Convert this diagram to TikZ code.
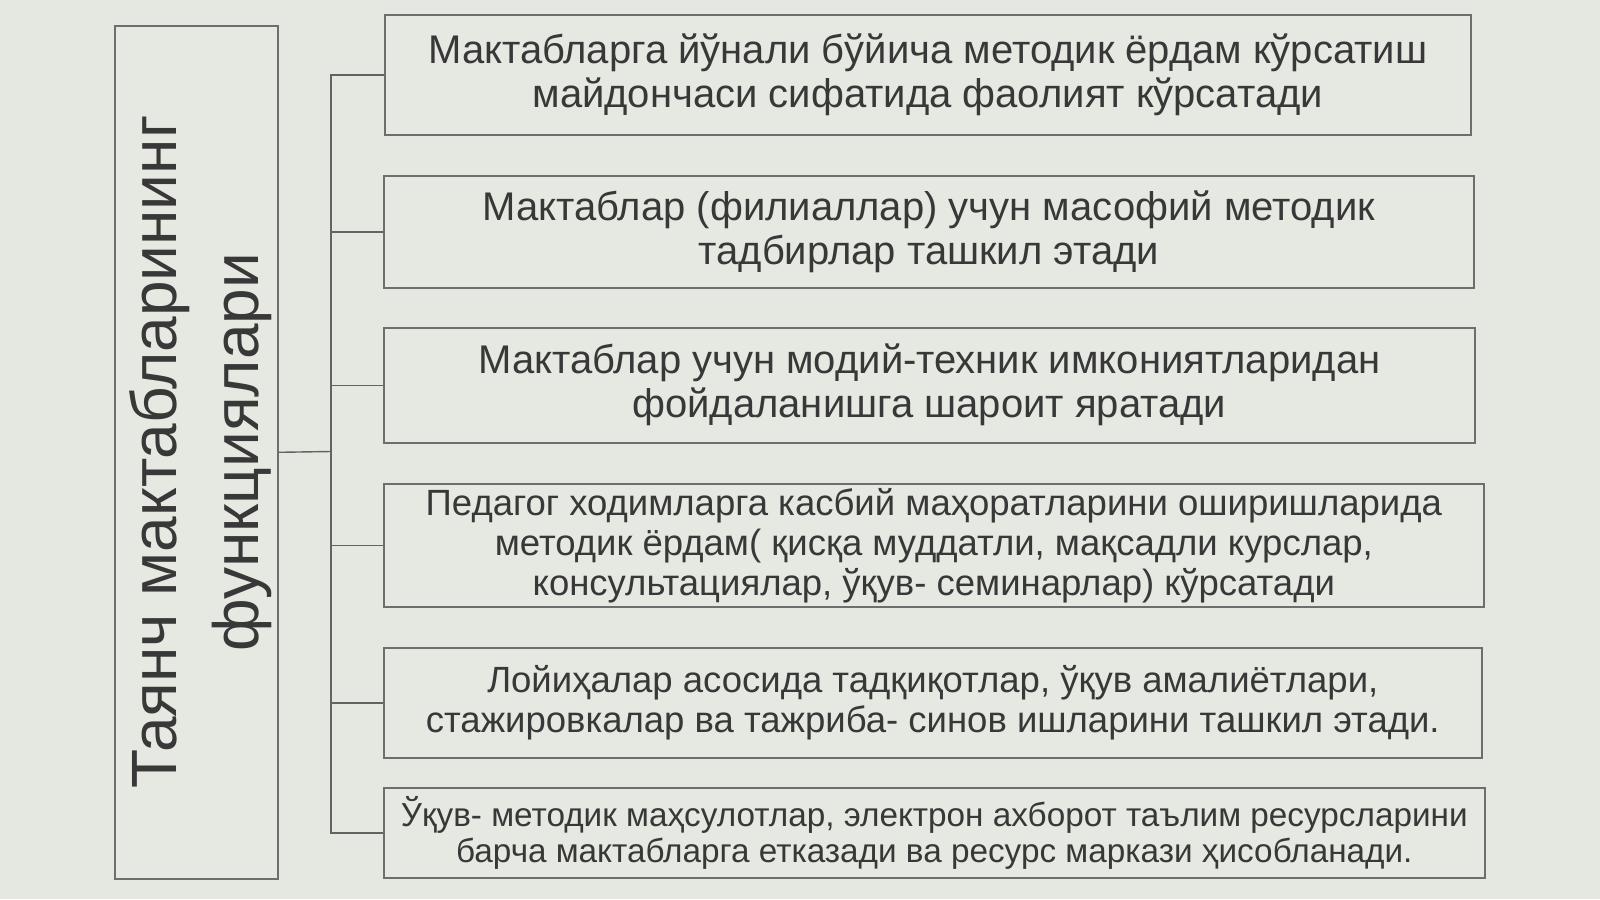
\documentclass[tikz,border=0pt]{standalone}
\usepackage{fontspec}
\setmainfont{Liberation Sans}
\definecolor{bgc}{HTML}{E4E8E0}
\definecolor{boxfill}{HTML}{E5E9E1}
\definecolor{edgec}{HTML}{6E6E6E}
\definecolor{txtc}{HTML}{383838}
\begin{document}
\begin{tikzpicture}[x=1pt,y=-1pt,
  item/.style={draw=edgec, fill=boxfill, line width=1.6pt, anchor=north west,
    align=center, text=txtc, inner sep=0pt},
  link/.style={draw=edgec!90!black, line width=1.4pt}]
\fill[bgc] (0,0) rectangle (1600,899);
\useasboundingbox (0,0) rectangle (1600,899);
\node[item, minimum width=163pt, minimum height=853pt] (L) at (114,25) {};
\node[text=txtc, rotate=90, align=center, font=\fontsize{64}{82}\selectfont] (Lt) at ([xshift=4pt]L.center) {Таянч мактабларининг\\функциялари};
\node[item, minimum width=1086pt, minimum height=120pt, font=\fontsize{40}{44}\selectfont] (b1) at (384,14)
 {Мактабларга йўнали бўйича методик ёрдам кўрсатиш\\майдончаси сифатида фаолият кўрсатади};
\node[item, minimum width=1090pt, minimum height=112pt, font=\fontsize{40}{44}\selectfont] (b2) at (383,175)
 {Мактаблар (филиаллар) учун масофий методик\\тадбирлар ташкил этади};
\node[item, minimum width=1091pt, minimum height=115pt, font=\fontsize{40}{44}\selectfont] (b3) at (383,327)
 {Мактаблар учун модий-техник имкониятларидан\\фойдаланишга шароит яратади};
\node[item, minimum width=1100pt, minimum height=123pt, font=\fontsize{36.5}{40}\selectfont] (b4) at (383,483)
 {Педагог ходимларга касбий маҳоратларини оширишларида\\методик ёрдам( қисқа муддатли, мақсадли курслар,\\консультациялар, ўқув- семинарлар) кўрсатади};
\node[item, minimum width=1098pt, minimum height=110pt, font=\fontsize{36.5}{40}\selectfont] (b5) at (383,647)
 {Лойиҳалар асосида тадқиқотлар, ўқув амалиётлари,\\стажировкалар ва тажриба- синов ишларини ташкил этади.};
\node[item, minimum width=1101pt, minimum height=90pt, font=\fontsize{33.3}{36}\selectfont] (b6) at (383,787)
 {Ўқув- методик маҳсулотлар, электрон ахборот таълим ресурсларини\\барча мактабларга етказади ва ресурс маркази ҳисобланади.};
\coordinate (t) at (331,451.5);
\draw[link] (L.east) -- (t);
\foreach \b in {b1,b2,b3,b4,b5,b6} { \draw[link] (t) |- (\b.west); }
\end{tikzpicture}
\end{document}
